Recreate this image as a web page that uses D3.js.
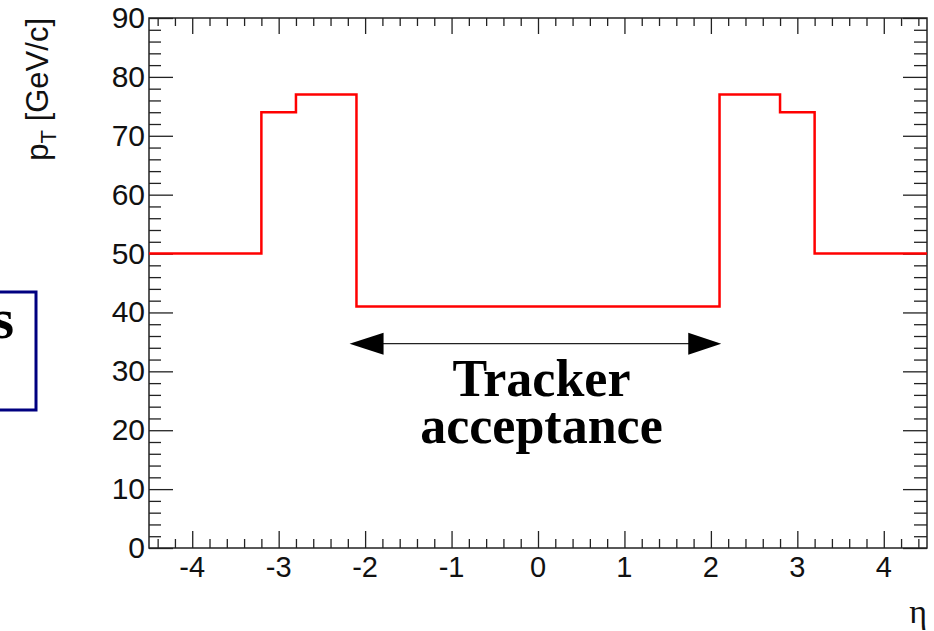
<!DOCTYPE html>
<html>
<head>
<meta charset="utf-8">
<script src="https://cdn.jsdelivr.net/npm/d3@7"></script>
<style>
  body { margin: 0; background: #fff; }
  svg { display: block; }
</style>
</head>
<body>
<div id="chart"></div>
<script>
// bin edges in eta and the pT threshold of each bin
const etaEdges = [-4.5, -3.2, -2.8, -2.1, 2.1, 2.8, 3.2, 4.5];
const ptValues = [50, 74, 77, 41, 77, 74, 50];

const xTickValues = [-4, -3, -2, -1, 0, 1, 2, 3, 4];
const xTickLabels = ['-4', '-3', '-2', '-1', '0', '1', '2', '3', '4'];
const yTickValues = [0, 10, 20, 30, 40, 50, 60, 70, 80, 90];
const yTickLabels = ['0', '10', '20', '30', '40', '50', '60', '70', '80', '90'];

const arrowEta = [-2.18, 2.12];
const arrowPt = 34.7;
const noteLines = ['Tracker', 'acceptance'];

const width = 934, height = 631;
const frameLeft = 149, frameRight = 927, frameTop = 18, frameBottom = 548;

const svg = d3.select('#chart')
    .append('svg')
    .attr('width', width)
    .attr('height', height);

const xScale = d3.scaleLinear().domain([-4.5, 4.5]).range([frameLeft, frameRight]);
const yScale = d3.scaleLinear().domain([0, 90]).range([frameBottom, frameTop]);

// minor tick positions (ROOT style divisions)
const xMinor = d3.range(-44, 45, 2).map(d => d / 10).filter(d => !xTickValues.includes(d));
const yMinor = d3.range(0, 91, 2).filter(d => !yTickValues.includes(d));

const tickColor = '#222';

function tickGroup(axis, transform) {
    svg.append('g')
        .attr('transform', transform)
        .call(axis.tickFormat('').tickSizeOuter(0))
        .call(g => g.select('.domain').remove());
}

// bottom axis
tickGroup(d3.axisBottom(xScale).tickValues(xTickValues).tickSizeInner(-17), `translate(0,${frameBottom})`);
tickGroup(d3.axisBottom(xScale).tickValues(xMinor).tickSizeInner(-9), `translate(0,${frameBottom})`);
// top axis
tickGroup(d3.axisTop(xScale).tickValues(xTickValues).tickSizeInner(-16), `translate(0,${frameTop})`);
tickGroup(d3.axisTop(xScale).tickValues(xMinor).tickSizeInner(-8), `translate(0,${frameTop})`);
// left axis
tickGroup(d3.axisLeft(yScale).tickValues(yTickValues).tickSizeInner(-24), `translate(${frameLeft},0)`);
tickGroup(d3.axisLeft(yScale).tickValues(yMinor).tickSizeInner(-12), `translate(${frameLeft},0)`);
// right axis
tickGroup(d3.axisRight(yScale).tickValues(yTickValues).tickSizeInner(-24), `translate(${frameRight},0)`);
tickGroup(d3.axisRight(yScale).tickValues(yMinor).tickSizeInner(-13), `translate(${frameRight},0)`);

svg.selectAll('.tick line').attr('stroke', tickColor).attr('stroke-width', 1.3);

// frame
svg.append('rect')
    .attr('x', frameLeft)
    .attr('y', frameTop)
    .attr('width', frameRight - frameLeft)
    .attr('height', frameBottom - frameTop)
    .attr('fill', 'none')
    .attr('stroke', tickColor)
    .attr('stroke-width', 1.5);

// tick labels
svg.append('g').selectAll('text')
    .data(xTickValues)
    .join('text')
    .attr('x', d => xScale(d))
    .attr('y', 577)
    .attr('text-anchor', 'middle')
    .attr('font-family', 'Liberation Sans, Arial, sans-serif')
    .attr('font-size', 29)
    .attr('fill', '#111')
    .text((d, i) => xTickLabels[i]);

svg.append('g').selectAll('text')
    .data(yTickValues)
    .join('text')
    .attr('x', frameLeft - 4)
    .attr('y', d => yScale(d) + 10)
    .attr('text-anchor', 'end')
    .attr('font-family', 'Liberation Sans, Arial, sans-serif')
    .attr('font-size', 30)
    .attr('fill', '#111')
    .text((d, i) => yTickLabels[i]);

// axis titles
const yTitle = svg.append('text')
    .attr('transform', `translate(48,${frameTop}) rotate(-90)`)
    .attr('text-anchor', 'end')
    .attr('font-family', 'Liberation Sans, Arial, sans-serif')
    .attr('font-size', 31)
    .attr('fill', '#111');
yTitle.append('tspan').text('p');
yTitle.append('tspan').attr('font-size', 22).attr('dy', 8).text('T');
yTitle.append('tspan').attr('dy', -8).text(' [GeV/c]');

svg.append('text')
    .attr('x', frameRight)
    .attr('y', 623)
    .attr('text-anchor', 'end')
    .attr('font-family', 'Liberation Serif, Times New Roman, serif')
    .attr('font-size', 34)
    .attr('fill', '#111')
    .text('η');

// histogram step line
const stepPoints = [];
ptValues.forEach((v, i) => {
    stepPoints.push([etaEdges[i], v]);
    stepPoints.push([etaEdges[i + 1], v]);
});
svg.append('path')
    .datum(stepPoints)
    .attr('fill', 'none')
    .attr('stroke', '#ff0000')
    .attr('stroke-width', 2.5)
    .attr('d', d3.line().x(d => xScale(d[0])).y(d => yScale(d[1])));

// tracker acceptance arrow
const ay = yScale(arrowPt);
const x1 = xScale(arrowEta[0]), x2 = xScale(arrowEta[1]);
svg.append('line')
    .attr('x1', x1 + 20).attr('x2', x2 - 20)
    .attr('y1', ay).attr('y2', ay)
    .attr('stroke', '#222')
    .attr('stroke-width', 1.2);
svg.append('path')
    .attr('d', `M${x1},${ay} L${x1 + 34},${ay - 11} L${x1 + 34},${ay + 11} Z`)
    .attr('fill', '#000');
svg.append('path')
    .attr('d', `M${x2},${ay} L${x2 - 33},${ay - 11} L${x2 - 33},${ay + 11} Z`)
    .attr('fill', '#000');

svg.append('g').selectAll('text')
    .data(noteLines)
    .join('text')
    .attr('x', xScale(0.04))
    .attr('y', (d, i) => 396 + i * 47)
    .attr('text-anchor', 'middle')
    .attr('font-family', 'Liberation Serif, Times New Roman, serif')
    .attr('font-weight', 'bold')
    .attr('font-size', 52)
    .attr('fill', '#000')
    .text(d => d);

// partial legend box cut at the left edge
svg.append('rect')
    .attr('x', -20)
    .attr('y', 292)
    .attr('width', 56)
    .attr('height', 118)
    .attr('fill', 'none')
    .attr('stroke', '#000080')
    .attr('stroke-width', 3);
svg.append('text')
    .attr('x', 14)
    .attr('y', 338)
    .attr('text-anchor', 'end')
    .attr('font-family', 'Liberation Serif, Times New Roman, serif')
    .attr('font-weight', 'bold')
    .attr('font-size', 58)
    .attr('fill', '#000')
    .text('s');
</script>
</body>
</html>
